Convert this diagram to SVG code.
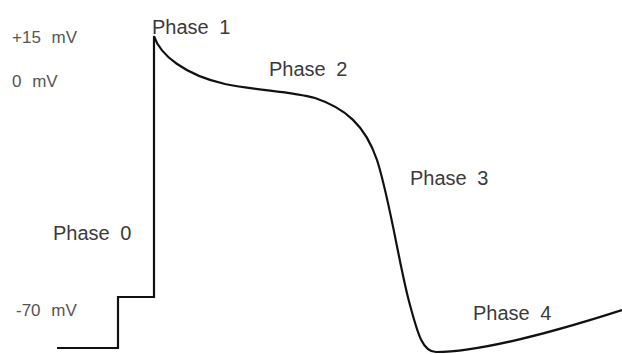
<svg xmlns="http://www.w3.org/2000/svg" width="622" height="354" viewBox="0 0 622 354">
<style>
.lbl{font-family:"Liberation Sans",Arial,sans-serif;fill:#3a3a3a}
.ph{font-size:20px;word-spacing:5px}
.mv{font-size:17px;fill:#555;word-spacing:6px}
.trace{fill:none;stroke:#111;stroke-width:2.2;stroke-linejoin:miter}
</style>
<rect width="622" height="354" fill="#fff"/>
<g id="connectors">
<path class="trace" d="M57,348 H118 V297 H154 V36 C160,55 185,75 225,84 C260,91 290,91 315,98 C345,108 365,125 377,160 C390,200 400,270 410,305 C418,335 423,352 436,352 C480,352 560,330 622,310"/>
</g>
<g id="axis-labels">
<text class="lbl mv" x="12" y="43">+15 mV</text>
<text class="lbl mv" x="12" y="87">0 mV</text>
<text class="lbl mv" x="16" y="316">-70 mV</text>
</g>
<g id="phase0"><text class="lbl ph" x="53" y="240">Phase 0</text></g>
<g id="phase1"><text class="lbl ph" x="152" y="34">Phase 1</text></g>
<g id="phase2"><text class="lbl ph" x="269" y="76">Phase 2</text></g>
<g id="phase3"><text class="lbl ph" x="410" y="185">Phase 3</text></g>
<g id="phase4"><text class="lbl ph" x="473" y="320">Phase 4</text></g>
</svg>
